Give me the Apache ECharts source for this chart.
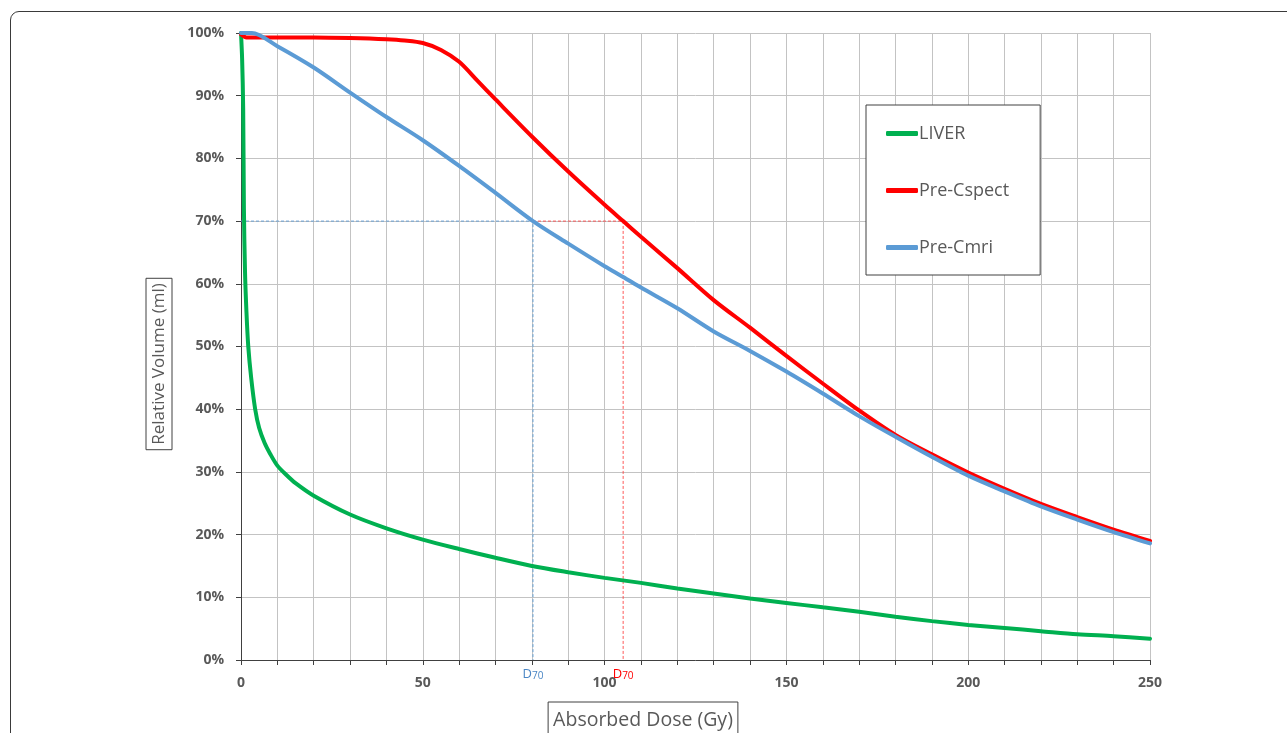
<!DOCTYPE html>
<html>
<head>
<meta charset="utf-8">
<script src="https://cdn.jsdelivr.net/npm/echarts@6/dist/echarts.min.js"></script>
<style>
  html, body { margin: 0; padding: 0; background: #fff; overflow: hidden; }
  #frame { position: absolute; left: 10px; top: 11px; width: 1300px; height: 760px;
           border: 1px solid #3a3a3a; border-radius: 9px; box-sizing: border-box; }
  #chart { position: absolute; left: 0; top: 0; width: 1287px; height: 733px; }
</style>
</head>
<body>
<div id="frame"></div>
<div id="chart"></div>
<script>
// LIVER
const liverDose = [0, 0.3, 0.6, 0.8, 1.1, 1.5, 2, 2.8, 3.9, 5, 6.5, 8, 10, 12.5, 15, 20, 30, 40, 50, 60, 70, 80, 90, 100,
  110, 120, 130, 140, 150, 160, 170, 180, 190, 200, 210, 220, 230, 240, 250]
const liverVol = [100, 96, 88, 72, 62, 55.5, 50, 45, 40, 37.0, 34.6, 32.9, 31.0, 29.5, 28.2, 26.2, 23.2, 21.0, 19.2, 17.7, 16.3, 15.0, 14.0, 13.1,
  12.3, 11.4, 10.6, 9.8, 9.1, 8.4, 7.7, 6.9, 6.2, 5.6, 5.1, 4.6, 4.1, 3.8, 3.4]

// Pre-Cspect
const cspectDose = [0, 1.5, 10, 20, 30, 40, 45, 50, 55, 60, 65, 70, 80, 90, 100, 105.1, 110, 120, 130, 140, 150,
  160, 170, 180, 190, 200, 210, 220, 230, 240, 250]
const cspectVol = [99.8, 99.3, 99.3, 99.3, 99.2, 99.0, 98.8, 98.4, 97.3, 95.4, 92.4, 89.4, 83.5, 77.9, 72.6, 70, 67.5, 62.5, 57.4, 53.0, 48.5,
  44.1, 39.8, 35.9, 32.8, 29.9, 27.3, 24.9, 22.8, 20.8, 19.0]

// Pre-Cmri
const cmriDose = [0, 3, 10, 20, 30, 40, 50, 60, 70, 80.3, 90, 100, 105.1, 110, 120, 130, 140, 150,
  160, 170, 180, 190, 200, 210, 220, 230, 240, 250]
const cmriVol = [100, 100, 97.9, 94.5, 90.5, 86.6, 82.9, 78.8, 74.5, 70, 66.4, 62.8, 61.1, 59.4, 56.1, 52.4, 49.3, 46.0,
  42.5, 38.9, 35.6, 32.4, 29.4, 26.9, 24.5, 22.4, 20.4, 18.6]

// D70 markers
const level70 = 70
const d70Cmri = 80.3
const d70Cspect = 105.1

const xLabelStep = 50

const zip = (xs, ys) => xs.map((x, i) => [x, ys[i]])

const chart = echarts.init(document.getElementById('chart'))

const d70Label = (color) => ({
  show: true,
  position: 'bottom',
  distance: 4,
  formatter: '{d|D}{s|70}',
  rich: {
    d: { color, fontSize: 13, fontFamily: 'Open Sans', verticalAlign: 'bottom', lineHeight: 17 },
    s: { color, fontSize: 10, fontFamily: 'Open Sans', verticalAlign: 'bottom', lineHeight: 11 },
  },
})

const lineSeries = (name, color, data, z) => ({
  name,
  type: 'line',
  data,
  showSymbol: false,
  symbol: 'none',
  smooth: 0.3,
  z,
  lineStyle: { color, width: 4, cap: 'round' },
  itemStyle: { color },
})

// dashed guide from the 70% level down to the axis
const guideSeries = (name, color, labelColor, fromX, toX) => ({
  name,
  type: 'line',
  z: 2,
  silent: true,
  showSymbol: true,
  symbol: 'circle',
  symbolSize: 0,
  lineStyle: { color, width: 1, type: [3, 2] },
  itemStyle: { color },
  emphasis: { disabled: true },
  data: [
    [fromX, level70],
    [toX, level70],
    { value: [toX, 0], label: d70Label(labelColor) },
  ],
})

chart.setOption({
  animation: false,
  textStyle: { fontFamily: 'Open Sans' },
  grid: { left: 241, right: 137, top: 33, bottom: 73 },
  legend: {
    orient: 'vertical',
    left: 866,
    top: 105,
    padding: [18, 31, 17, 20],
    itemGap: 36,
    itemWidth: 32,
    itemHeight: 5,
    icon: 'roundRect',
    borderColor: '#404040',
    borderWidth: 1,
    borderRadius: 0,
    backgroundColor: '#fff',
    textStyle: { color: '#595959', fontSize: 18, fontFamily: 'Open Sans', lineHeight: 21, padding: [0, 0, 0, -4] },
    data: ['LIVER', 'Pre-Cspect', 'Pre-Cmri'],
  },
  xAxis: {
    type: 'value',
    min: 0,
    max: 250,
    interval: 10,
    axisLine: { lineStyle: { color: '#404040', width: 1 } },
    axisTick: { show: true, length: 5, lineStyle: { color: '#404040' } },
    axisLabel: {
      color: '#595959',
      fontWeight: 'bold',
      fontSize: 14,
      margin: 16,
      formatter: (v) => (v % xLabelStep === 0 ? String(v) : ''),
    },
    splitLine: { show: true, lineStyle: { color: '#c3c3c3', width: 1 } },
  },
  yAxis: {
    type: 'value',
    min: 0,
    max: 100,
    interval: 10,
    axisLine: { show: true, lineStyle: { color: '#404040', width: 1 } },
    axisTick: { show: true, length: 5, lineStyle: { color: '#404040' } },
    axisLabel: { color: '#595959', fontWeight: 'bold', fontSize: 14, margin: 17, formatter: '{value}%' },
    splitLine: { show: true, lineStyle: { color: '#c3c3c3', width: 1 } },
  },
  graphic: [
    {
      type: 'text',
      x: 159,
      y: 364,
      rotation: Math.PI / 2,
      z: 10,
      style: {
        text: 'Relative Volume (ml)',
        font: '17px "Open Sans"',
        fill: '#595959',
        align: 'center',
        verticalAlign: 'middle',
        borderColor: '#404040',
        borderWidth: 1,
        padding: [5, 5, 4, 5],
      },
    },
    {
      type: 'text',
      x: 643,
      y: 720,
      z: 10,
      style: {
        text: 'Absorbed Dose (Gy)',
        font: '19.5px "Open Sans"',
        fill: '#595959',
        align: 'center',
        verticalAlign: 'middle',
        borderColor: '#404040',
        borderWidth: 1,
        padding: [6, 5, 10, 5],
      },
    },
  ],
  series: [
    guideSeries('D70 Pre-Cmri', 'rgba(91,155,213,0.9)', '#4a86c5', 0, d70Cmri),
    guideSeries('D70 Pre-Cspect', 'rgba(255,60,60,0.85)', '#ff0000', d70Cmri, d70Cspect),
    lineSeries('LIVER', '#00b050', zip(liverDose, liverVol), 3),
    lineSeries('Pre-Cspect', '#ff0000', zip(cspectDose, cspectVol), 4),
    lineSeries('Pre-Cmri', '#5b9bd5', zip(cmriDose, cmriVol), 5),
  ],
})
</script>
</body>
</html>
